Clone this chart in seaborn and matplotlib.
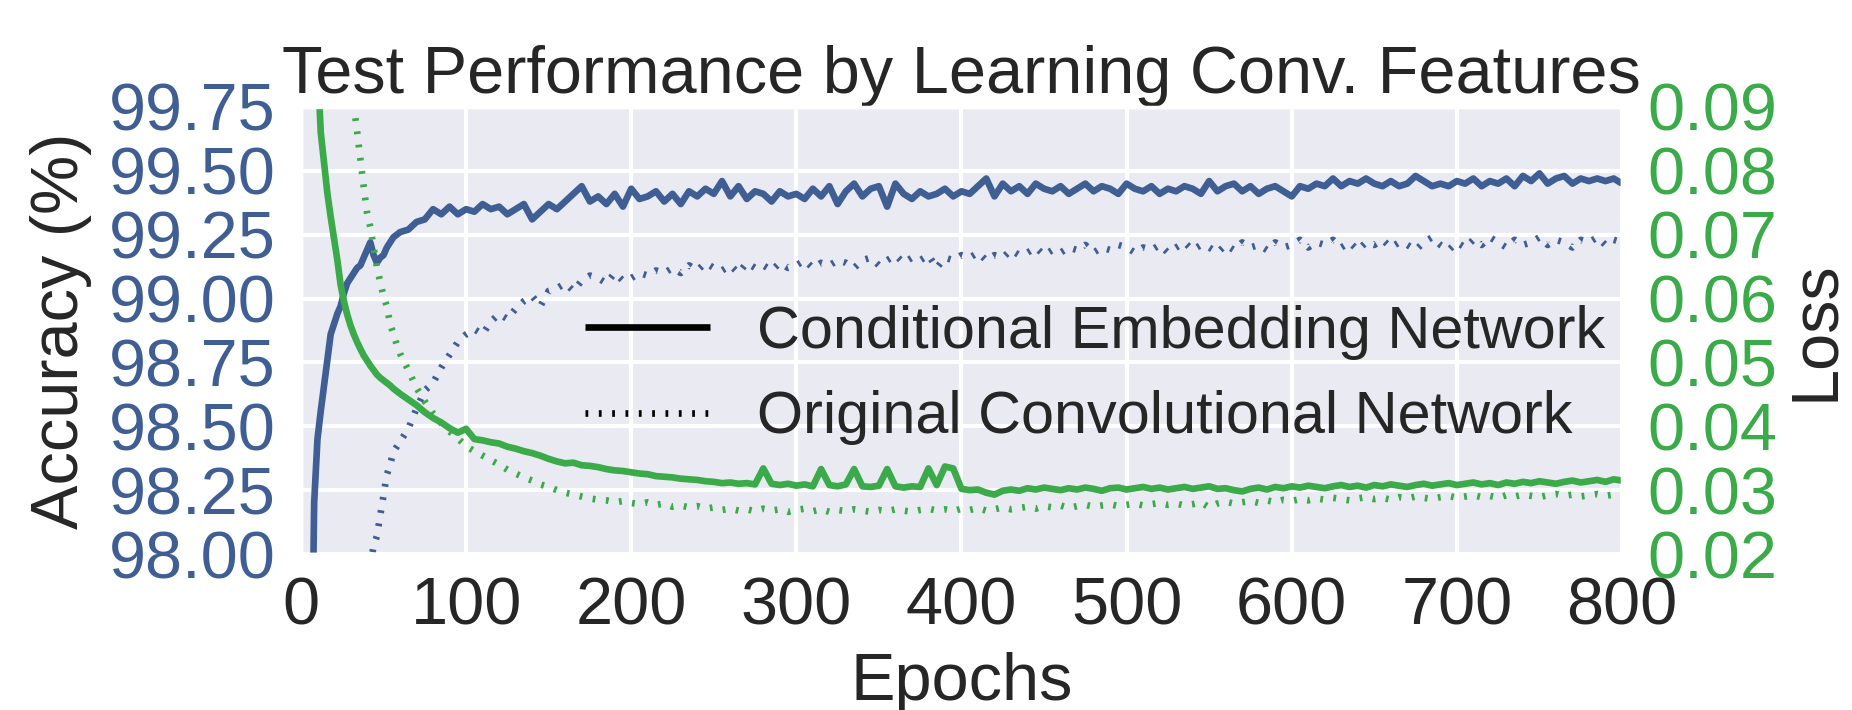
"""Test accuracy / loss curves: conditional embedding vs. original conv network."""

import matplotlib

matplotlib.use("Agg")
import matplotlib.pyplot as plt
import numpy as np
import pandas as pd
import seaborn as sns
from matplotlib.lines import Line2D
from matplotlib.ticker import FormatStrFormatter

BLUE = "#3F5E94"
GREEN = "#3BAA49"
TEXT = "#262626"

EPOCHS = np.concatenate([np.arange(2, 61, 2), np.arange(65, 801, 5)])

# accuracy (%), conditional embedding network
CE_ACC = [
    96.0, 96.6, 97.2, 98.2, 98.45, 98.56, 98.66, 98.76, 98.86, 98.90,
    98.94, 98.97, 99.02, 99.06, 99.08, 99.10, 99.12, 99.13, 99.16, 99.19,
    99.22, 99.17, 99.14, 99.16, 99.17, 99.20, 99.22, 99.24, 99.25, 99.26,
    99.27, 99.30, 99.31, 99.35, 99.33, 99.36, 99.33, 99.35, 99.34, 99.37,
    99.35, 99.36, 99.33, 99.35, 99.37, 99.31, 99.34, 99.37, 99.35, 99.38,
    99.41, 99.44, 99.38, 99.40, 99.37, 99.41, 99.36, 99.43, 99.39, 99.40,
    99.42, 99.38, 99.41, 99.37, 99.42, 99.40, 99.43, 99.41, 99.46, 99.40,
    99.44, 99.39, 99.42, 99.41, 99.38, 99.42, 99.40, 99.41, 99.39, 99.43,
    99.40, 99.44, 99.37, 99.42, 99.45, 99.40, 99.43, 99.44, 99.36, 99.45,
    99.41, 99.39, 99.42, 99.40, 99.41, 99.43, 99.40, 99.42, 99.41, 99.44,
    99.47, 99.40, 99.45, 99.42, 99.44, 99.41, 99.45, 99.43, 99.42, 99.44,
    99.41, 99.43, 99.45, 99.42, 99.44, 99.43, 99.41, 99.45, 99.43, 99.42,
    99.44, 99.41, 99.43, 99.42, 99.44, 99.43, 99.41, 99.46, 99.42, 99.44,
    99.45, 99.42, 99.44, 99.41, 99.43, 99.44, 99.42, 99.40, 99.44, 99.43,
    99.45, 99.44, 99.47, 99.44, 99.46, 99.45, 99.47, 99.45, 99.44, 99.46,
    99.44, 99.45, 99.48, 99.46, 99.44, 99.45, 99.44, 99.46, 99.45, 99.47,
    99.44, 99.46, 99.45, 99.47, 99.44, 99.48, 99.46, 99.49, 99.45, 99.47,
    99.48, 99.45, 99.47, 99.46, 99.47, 99.46, 99.47, 99.45,
]

# accuracy (%), original convolutional network
OC_ACC = [
    93.0, 93.5, 94.0, 94.4, 94.8, 95.2, 95.5, 95.8, 96.1, 96.3,
    96.5, 96.7, 96.9, 97.05, 97.2, 97.35, 97.5, 97.6, 97.72, 97.84,
    97.96, 98.03, 98.07, 98.15, 98.23, 98.31, 98.35, 98.40, 98.42, 98.44,
    98.49, 98.57, 98.64, 98.67, 98.73, 98.78, 98.83, 98.86, 98.88, 98.86,
    98.91, 98.94, 98.92, 98.96, 98.99, 99.01, 98.97, 99.03, 99.04, 99.06,
    99.03, 99.07, 99.09, 99.08, 99.06, 99.10, 99.07, 99.08, 99.10, 99.09,
    99.11, 99.10, 99.12, 99.10, 99.13, 99.11, 99.14, 99.12, 99.11, 99.13,
    99.10, 99.14, 99.12, 99.13, 99.11, 99.14, 99.12, 99.13, 99.15, 99.12,
    99.14, 99.13, 99.15, 99.14, 99.12, 99.15, 99.16, 99.13, 99.15, 99.17,
    99.14, 99.16, 99.15, 99.17, 99.12, 99.16, 99.15, 99.17, 99.16, 99.18,
    99.15, 99.17, 99.16, 99.19, 99.17, 99.18, 99.20, 99.17, 99.19, 99.18,
    99.20, 99.19, 99.21, 99.18, 99.20, 99.19, 99.21, 99.20, 99.18, 99.20,
    99.19, 99.21, 99.18, 99.20, 99.22, 99.19, 99.21, 99.20, 99.18, 99.21,
    99.19, 99.22, 99.20, 99.21, 99.19, 99.22, 99.20, 99.21, 99.23, 99.20,
    99.22, 99.21, 99.23, 99.20, 99.22, 99.19, 99.22, 99.21, 99.23, 99.20,
    99.22, 99.21, 99.19, 99.22, 99.24, 99.21, 99.19, 99.22, 99.20, 99.23,
    99.21, 99.24, 99.22, 99.20, 99.23, 99.21, 99.22, 99.24, 99.21, 99.23,
    99.22, 99.20, 99.23, 99.22, 99.24, 99.21, 99.23, 99.22,
]

# loss, conditional embedding network
CE_LOSS = [
    0.200, 0.160, 0.130, 0.110, 0.097, 0.086, 0.0812, 0.0765, 0.0728, 0.0695,
    0.0661, 0.0622, 0.0596, 0.0575, 0.0558, 0.0544, 0.0532, 0.0521, 0.0511, 0.0503,
    0.0495, 0.0488, 0.0481, 0.0476, 0.0472, 0.0468, 0.0464, 0.0459, 0.0455, 0.0451,
    0.0442, 0.0433, 0.0422, 0.0413, 0.0406, 0.0397, 0.0390, 0.0396, 0.0380, 0.0378,
    0.0375, 0.0373, 0.0368, 0.0365, 0.0361, 0.0358, 0.0354, 0.0349, 0.0345, 0.0342,
    0.0343, 0.0339, 0.0338, 0.0336, 0.0333, 0.0331, 0.0330, 0.0328, 0.0326, 0.0325,
    0.0322, 0.0321, 0.0320, 0.0318, 0.0317, 0.0316, 0.0314, 0.0313, 0.0311, 0.0312,
    0.0310, 0.0311, 0.0309, 0.0334, 0.0310, 0.0308, 0.0310, 0.0307, 0.0309, 0.0306,
    0.0333, 0.0308, 0.0306, 0.0309, 0.0333, 0.0306, 0.0305, 0.0307, 0.0333, 0.0306,
    0.0304, 0.0306, 0.0305, 0.0334, 0.0308, 0.0337, 0.0334, 0.0302, 0.0300, 0.0301,
    0.0296, 0.0293, 0.0299, 0.0301, 0.0299, 0.0303, 0.0301, 0.0304, 0.0302, 0.0300,
    0.0303, 0.0301, 0.0304, 0.0302, 0.0299, 0.0303, 0.0304, 0.0301, 0.0303, 0.0305,
    0.0302, 0.0304, 0.0301, 0.0303, 0.0305, 0.0302, 0.0304, 0.0306, 0.0302, 0.0303,
    0.0300, 0.0298, 0.0302, 0.0304, 0.0301, 0.0305, 0.0303, 0.0306, 0.0304, 0.0307,
    0.0305, 0.0303, 0.0306, 0.0308, 0.0305, 0.0307, 0.0304, 0.0308, 0.0306, 0.0309,
    0.0307, 0.0305, 0.0308, 0.0310, 0.0307, 0.0309, 0.0311, 0.0308, 0.0310, 0.0312,
    0.0309, 0.0311, 0.0308, 0.0312, 0.0310, 0.0313, 0.0311, 0.0314, 0.0312, 0.0310,
    0.0313, 0.0315, 0.0312, 0.0314, 0.0316, 0.0313, 0.0317, 0.0315,
]

# loss, original convolutional network
OC_LOSS = [
    0.40, 0.35, 0.30, 0.26, 0.23, 0.20, 0.18, 0.16, 0.145, 0.13,
    0.12, 0.11, 0.103, 0.097, 0.093, 0.0902, 0.0862, 0.0818, 0.0775, 0.0735,
    0.0712, 0.0680, 0.0650, 0.0626, 0.0604, 0.0588, 0.0560, 0.0545, 0.0528, 0.0514,
    0.0488, 0.0460, 0.0439, 0.0420, 0.0405, 0.0392, 0.0381, 0.0369, 0.0361, 0.0354,
    0.0347, 0.0340, 0.0332, 0.0326, 0.0320, 0.0315, 0.0309, 0.0305, 0.0300, 0.0296,
    0.0293, 0.0290, 0.0287, 0.0285, 0.0284, 0.0281, 0.0283, 0.0280, 0.0278, 0.0281,
    0.0277, 0.0279, 0.0274, 0.0276, 0.0273, 0.0275, 0.0271, 0.0273, 0.0269, 0.0271,
    0.0268, 0.0270, 0.0267, 0.0271, 0.0268, 0.0270, 0.0266, 0.0269, 0.0271, 0.0267,
    0.0270, 0.0266, 0.0269, 0.0267, 0.0270, 0.0268, 0.0266, 0.0269, 0.0267, 0.0270,
    0.0268, 0.0266, 0.0269, 0.0271, 0.0268, 0.0270, 0.0267, 0.0271, 0.0269, 0.0272,
    0.0268, 0.0270, 0.0273, 0.0270, 0.0272, 0.0274, 0.0271, 0.0275, 0.0273, 0.0276,
    0.0272, 0.0275, 0.0277, 0.0274, 0.0276, 0.0278, 0.0275, 0.0277, 0.0279, 0.0276,
    0.0278, 0.0280, 0.0277, 0.0279, 0.0276, 0.0278, 0.0281, 0.0273, 0.0279, 0.0282,
    0.0279, 0.0281, 0.0283, 0.0280, 0.0284, 0.0281, 0.0285, 0.0283, 0.0286, 0.0284,
    0.0287, 0.0285, 0.0288, 0.0286, 0.0284, 0.0287, 0.0289, 0.0286, 0.0288, 0.0285,
    0.0289, 0.0287, 0.0290, 0.0288, 0.0286, 0.0289, 0.0291, 0.0288, 0.0290, 0.0292,
    0.0289, 0.0291, 0.0288, 0.0292, 0.0290, 0.0293, 0.0291, 0.0289, 0.0292, 0.0294,
    0.0291, 0.0293, 0.0290, 0.0292, 0.0294, 0.0291, 0.0293, 0.0292,
]

ACC_TICKS = [98.00, 98.25, 98.50, 98.75, 99.00, 99.25, 99.50, 99.75]
LOSS_TICKS = [0.02, 0.03, 0.04, 0.05, 0.06, 0.07, 0.08, 0.09]
EPOCH_TICKS = [0, 100, 200, 300, 400, 500, 600, 700, 800]
LEGEND_LABELS = ["Conditional Embedding Network", "Original Convolutional Network"]

FS = 24
LEGEND_FS = 21.4
LW = 2.4
DOTTED = (0, (1, 3.8))


def main() -> None:
    sns.set_theme(style="darkgrid", rc={"grid.linewidth": 1.5})
    plt.rcParams["font.family"] = ["Liberation Sans", "DejaVu Sans"]
    plt.rcParams["lines.scale_dashes"] = False
    plt.rcParams["lines.solid_capstyle"] = "butt"

    df = pd.DataFrame(
        {
            "epoch": EPOCHS,
            "ce_acc": CE_ACC,
            "oc_acc": OC_ACC,
            "ce_loss": CE_LOSS,
            "oc_loss": OC_LOSS,
        }
    )

    fig, ax = plt.subplots(figsize=(9.26, 3.55), dpi=200)
    fig.subplots_adjust(left=0.1625, right=0.8758, top=0.8493, bottom=0.2197)

    sns.lineplot(data=df, x="epoch", y="ce_acc", ax=ax, color=BLUE, lw=LW, estimator=None)
    sns.lineplot(data=df, x="epoch", y="oc_acc", ax=ax, color=BLUE, lw=LW,
                 estimator=None, linestyle=DOTTED)

    ax2 = ax.twinx()
    sns.lineplot(data=df, x="epoch", y="ce_loss", ax=ax2, color=GREEN, lw=LW, estimator=None)
    sns.lineplot(data=df, x="epoch", y="oc_loss", ax=ax2, color=GREEN, lw=LW,
                 estimator=None, linestyle=DOTTED)
    ax2.grid(False)

    ax.set_xlim(0, 800)
    ax.set_ylim(98.0, 99.75)
    ax2.set_ylim(0.02, 0.09)
    ax.set_xticks(EPOCH_TICKS)
    ax.set_yticks(ACC_TICKS)
    ax2.set_yticks(LOSS_TICKS)
    ax.yaxis.set_major_formatter(FormatStrFormatter("%.2f"))
    ax2.yaxis.set_major_formatter(FormatStrFormatter("%.2f"))

    ax.tick_params(axis="x", labelsize=FS, labelcolor=TEXT, length=0, pad=8)
    ax.tick_params(axis="y", labelsize=FS, labelcolor=BLUE, length=0, pad=9)
    ax2.tick_params(axis="y", labelsize=FS, labelcolor=GREEN, length=0, pad=9)

    ax.set_xlabel("Epochs", fontsize=FS, color=TEXT, labelpad=5)
    ax.set_ylabel("Accuracy (%)", fontsize=FS, color=TEXT, labelpad=6)
    ax2.set_ylabel("Loss", fontsize=FS, color=TEXT, labelpad=3)
    ax.set_title("Test Performance by Learning Conv. Features", fontsize=FS,
                 color=TEXT, pad=5)

    handles = [
        Line2D([], [], color="black", lw=2.4),
        Line2D([], [], color="black", lw=2.4, linestyle=DOTTED),
    ]
    ax2.legend(handles, LEGEND_LABELS, loc="center right", bbox_to_anchor=(1.005, 0.40),
               frameon=False, fontsize=LEGEND_FS, handlelength=2.09, handletextpad=0.79,
               labelspacing=0.51, borderaxespad=0)

    fig.savefig("out.png", dpi=200)
    plt.close(fig)


if __name__ == "__main__":
    main()
